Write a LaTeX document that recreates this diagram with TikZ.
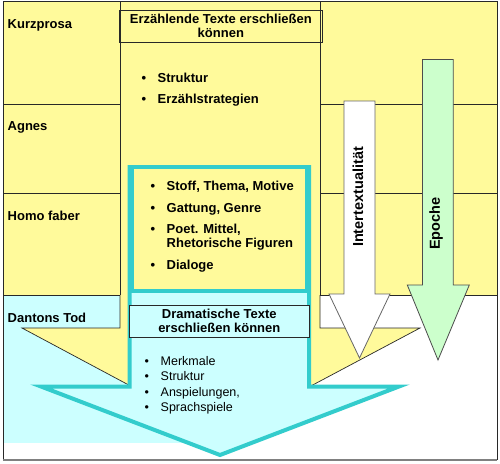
\documentclass[tikz,border=0pt]{standalone}
\usepackage{fontspec}
\setmainfont{Liberation Sans}
\definecolor{yel}{RGB}{255,250,155}
\definecolor{lcyan}{RGB}{204,255,255}
\definecolor{tealb}{RGB}{51,204,204}
\definecolor{lgreen}{RGB}{204,255,204}
\definecolor{linec}{RGB}{40,40,40}
\newcommand{\bul}{\makebox[16pt][l]{•}}
\begin{document}
\begin{tikzpicture}[x=1pt,y=-1pt,
  tline/.style={draw=linec, line width=0.8pt},
  lab/.style={font=\fontsize{13}{14.4}\selectfont\bfseries, anchor=base west, inner sep=0pt},
  bitem/.style={font=\fontsize{13}{14.4}\selectfont\bfseries, anchor=base west, inner sep=0pt},
  ritem/.style={font=\fontsize{12.5}{15}\selectfont, anchor=base west, inner sep=0pt},
  tbox/.style={draw=linec, line width=0.8pt, align=center, inner sep=0pt,
               font=\fontsize{13}{14.2}\selectfont\bfseries},
  vlab/.style={font=\fontsize{14.5}{16}\selectfont\bfseries, rotate=90}
]
\useasboundingbox (0,0) rectangle (500,463);
\fill[white] (0,0) rectangle (500,463);
% table cells
\fill[yel] (3,1) rectangle (120,295);
\fill[yel] (320,1) rectangle (497,295);
\fill[lcyan] (3,295) rectangle (245,443);
% big yellow arrow
\fill[yel] (120,1) -- (320,1) -- (320,328) -- (420,328) -- (220.5,434) -- (22,328) -- (120,328) -- cycle;
% table lines
\draw[tline] (3,1) -- (497,1);
\draw[tline] (3,1) -- (3,460);
\draw[tline] (497,1) -- (497,460);
\draw[tline] (120,1) -- (120,295);
\draw[tline] (320,1) -- (320,295);
\foreach \yy in {104,193,295}{
  \draw[tline] (3,\yy) -- (120,\yy);
  \draw[tline] (320,\yy) -- (497,\yy);
}
\draw[draw=gray, line width=1.6pt] (3,460) -- (497,460);
\draw[tline, line width=0.7pt] (120,295) -- (120,328) -- (22,328) -- (220.5,434) -- (420,328) -- (320,328) -- (320,295);
% white arrow
\filldraw[fill=white, draw=gray!80!black, line width=0.8pt]
  (344,101) -- (375,101) -- (375,294) -- (390,294) -- (359.5,358) -- (329,294) -- (344,294) -- cycle;
% green arrow
\filldraw[fill=lgreen, draw=gray!60!black, line width=0.8pt]
  (422.5,59.5) -- (453.3,59.5) -- (453.3,285) -- (469.3,285) -- (438,360) -- (407.3,285) -- (422.5,285) -- cycle;
% cyan arrow
\filldraw[fill=lcyan, draw=tealb, line width=4pt, line join=miter, miter limit=20]
  (129.5,167) -- (309,167) -- (309,386.5) -- (399,386.5) -- (220,455) -- (41,386.5) -- (129.5,386.5) -- cycle;
\filldraw[fill=yel, draw=tealb, line width=4pt] (132,167) rectangle (307,291);
% boxes
\node (erz) [tbox, minimum width=203.7pt, minimum height=32pt] at (220.85,26) {Erzählende Texte erschließen\\können};
\node (dram) [tbox, fill=lcyan, minimum width=180pt, minimum height=32.3pt] at (219.3,321.2) {Dramatische Texte\\erschließen können};
% left labels
\node (kurz) [lab] at (7.5,28.3) {Kurzprosa};
\node (agnes) [lab] at (7.5,130.7) {Agnes};
\node (homo) [lab] at (7.5,220) {Homo faber};
\node (danton) [lab] at (7.5,322.7) {Dantons Tod};
% bullets top
\node (s1) [bitem] at (141.5,82.7) {\bul Struktur};
\node (s2) [bitem] at (141.5,103.3) {\bul Erzählstrategien};
% bullets yellow box
\node (y1) [bitem] at (150.5,190.7) {\bul Stoff, Thema, Motive};
\node (y2) [bitem] at (150.5,212.7) {\bul Gattung, Genre};
\node (y3) [bitem] at (150.5,233.3) {\bul\begin{tabular}[t]{@{}l@{}}Poet. Mittel,\\Rhetorische Figuren\end{tabular}};
\node (y4) [bitem] at (150.5,269) {\bul Dialoge};
% bullets cyan arrow
\node (c1) [ritem] at (144.5,365) {\bul Merkmale};
\node (c2) [ritem] at (144.5,380.7) {\bul Struktur};
\node (c3) [ritem] at (144.5,396) {\bul Anspielungen,};
\node (c4) [ritem] at (144.5,411.7) {\bul Sprachspiele};
% vertical labels
\node (inter) [vlab] at (358,197) {Intertextualität};
\node (epo) [vlab] at (436,223.5) {Epoche};
\end{tikzpicture}
\end{document}
